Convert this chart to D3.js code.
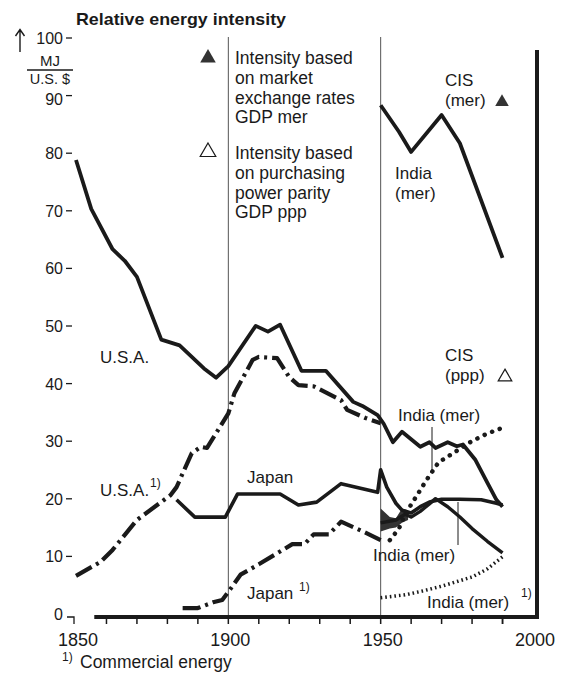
<!DOCTYPE html>
<html>
<head>
<meta charset="utf-8">
<script src="https://cdn.jsdelivr.net/npm/d3@7"></script>
<style>
  body { margin: 0; background: #fff; }
  svg { display: block; font-family: "Liberation Sans", Arial, sans-serif; }
</style>
</head>
<body>
<div id="chart"></div>
<script>
// Relative energy intensity, MJ per U.S. $
const usaMer = [[1850,79],[1855,70.5],[1862,63.5],[1866,61.5],[1870,58.7],[1878,47.8],[1884,46.8],[1892,42.8],[1896,41.2],[1900,43.2],[1909,50.2],[1913,49.2],[1917,50.4],[1924,42.4],[1932,42.4],[1941,37],[1944,36.3],[1949,34.7],[1951,33.2],[1954,30],[1957,31.8],[1960,30.5],[1963,29.2],[1966,30],[1968,29],[1972,30],[1975,29.3],[1977,29.6],[1981,27],[1985,23],[1988,20],[1990,18.8]];
const usaCommercial = [[1850,6.8],[1858,9.2],[1862,11.3],[1870,16.5],[1881,20.8],[1883,22.2],[1888,28.1],[1891,29.2],[1893,29],[1900,35],[1902,38.5],[1908,44.3],[1910,44.8],[1916,44.6],[1920,41.3],[1923,39.9],[1928,39.7],[1937,37.3],[1939,35.6],[1945,34.2],[1950,33.3]];
const japanMer = [[1883,20],[1889,17],[1899,17],[1903,21],[1917,21],[1923,19.1],[1929,19.6],[1937,22.8],[1949,21.3],[1950,25.2],[1952,22.2],[1955,19.4],[1957,18.2],[1960,17.7],[1963,18.8],[1966,19.6],[1970,20.1],[1976,20.1],[1983,20],[1988,19.4],[1990,19.1]];
const japanCommercial = [[1885,1.2],[1890,1.2],[1895,2.2],[1898,2.6],[1900,4],[1904,7],[1910,8.8],[1921,12.3],[1925,12.3],[1928,14],[1933,14],[1937,16.2],[1945,14.3],[1950,13]];
const cisMer = [[1950,88.5],[1956,83.9],[1960,80.4],[1970,86.8],[1976,81.9],[1990,62]];
const cisPpp = [[1953,13],[1956,15],[1958,17.5],[1961,20],[1965,23.4],[1969,26.5],[1975,28.5],[1980,30.2],[1985,31.5],[1990,32.5]];
const indiaMer = [[1950,16],[1955,16.5],[1958,17.5],[1960,17],[1963,18],[1966,19.3],[1968,20.2],[1972,18.8],[1976,17],[1980,15],[1985,12.8],[1990,10.8]];
const indiaBand = [[1950,14.5,18.5],[1953,15,17],[1955,15.2,16.8],[1957,16,18.5],[1959,16.5,18.2]];
const indiaCommercial = [[1950,3],[1958,3.5],[1964,4.2],[1970,5],[1980,6.6],[1985,8],[1990,10.1]];
const yTicks = [0,10,20,30,40,50,60,70,80,90,100];
const xLabels = [1850,1900,1950,2000];
const xMinorTicks = d3.range(1860, 2000, 10);

const width = 562, height = 673;
const ink = '#1a1a1a';

const svg = d3.select('#chart').append('svg')
  .attr('width', width).attr('height', height);

const x = d3.scaleLinear().domain([1850, 2000]).range([76, 533]);
const y = d3.scaleLinear().domain([0, 100]).range([615, 39]);

// vertical reference lines at 1900 and 1950
[1900, 1950].forEach(yr => {
  svg.append('line')
    .attr('x1', x(yr)).attr('x2', x(yr))
    .attr('y1', 37).attr('y2', y(0))
    .attr('stroke', '#555').attr('stroke-width', 1);
});

// x axis: heavy baseline with small ticks
svg.append('line')
  .attr('x1', x(1856)).attr('x2', 539)
  .attr('y1', y(0) + 2).attr('y2', y(0) + 2)
  .attr('stroke', ink).attr('stroke-width', 4);
svg.selectAll('.xtick').data(xMinorTicks.concat([1990]))
  .enter().append('line')
  .attr('class', 'xtick')
  .attr('x1', d => x(d)).attr('x2', d => x(d))
  .attr('y1', y(0) + 2).attr('y2', y(0) + 9)
  .attr('stroke', ink).attr('stroke-width', 1.5);
svg.selectAll('.xlab').data(xLabels)
  .enter().append('text')
  .attr('class', 'xlab')
  .attr('x', d => x(d) + 2).attr('y', 646)
  .attr('text-anchor', 'middle')
  .style('font-size', '18px').style('fill', ink)
  .text(d => d);

// right frame line
svg.append('line')
  .attr('x1', 537).attr('x2', 537)
  .attr('y1', 50).attr('y2', y(0) + 4)
  .attr('stroke', ink).attr('stroke-width', 4);

// y tick labels (no axis line, just label + dash)
svg.selectAll('.ylab').data(yTicks)
  .enter().append('text')
  .attr('class', 'ylab')
  .attr('x', 63).attr('y', d => y(d) + (d === 90 ? 8 : 5))
  .attr('text-anchor', 'end')
  .style('font-size', '16px').style('fill', ink)
  .text(d => d);
svg.selectAll('.ydash').data(yTicks.filter(d => d > 0))
  .enter().append('line')
  .attr('class', 'ydash')
  .attr('x1', 66).attr('x2', 72)
  .attr('y1', d => y(d) - 1).attr('y2', d => y(d) - 1)
  .attr('stroke', ink).attr('stroke-width', 1.3);
svg.append('path')
  .attr('d', `M67,${y(0) + 2}H74V${y(0) + 9}`)
  .attr('fill', 'none').attr('stroke', ink).attr('stroke-width', 1.3);

// unit: arrow + MJ / U.S. $
svg.append('path')
  .attr('d', 'M20,52V30M15.5,36L20,29.5L24.5,36')
  .attr('fill', 'none').attr('stroke', ink).attr('stroke-width', 1.4);
svg.append('text').attr('x', 50).attr('y', 66).attr('text-anchor', 'middle')
  .style('font-size', '15px').style('fill', ink).text('MJ');
svg.append('line').attr('x1', 27).attr('x2', 73).attr('y1', 70).attr('y2', 70)
  .attr('stroke', ink).attr('stroke-width', 1.3);
svg.append('text').attr('x', 50).attr('y', 84).attr('text-anchor', 'middle')
  .style('font-size', '14.5px').style('fill', ink).text('U.S. $');

// title
svg.append('text').attr('x', 76).attr('y', 25)
  .attr('textLength', 210).attr('lengthAdjust', 'spacingAndGlyphs')
  .style('font-size', '17px').style('font-weight', 'bold').style('fill', ink)
  .text('Relative energy intensity');

// legend
const triangle = d3.symbol().type(d3.symbolTriangle).size(105);
svg.append('path').attr('d', triangle).attr('transform', 'translate(208,58)')
  .attr('fill', '#333');
svg.append('path').attr('d', triangle).attr('transform', 'translate(208,152)')
  .attr('fill', '#fff').attr('stroke', ink).attr('stroke-width', 1.2);
const legendLines = [
  ['Intensity based', 64], ['on market', 84], ['exchange rates', 104], ['GDP mer', 123],
  ['Intensity based', 159], ['on purchasing', 179], ['power parity', 199], ['GDP ppp', 218]
];
svg.selectAll('.leg').data(legendLines)
  .enter().append('text')
  .attr('class', 'leg')
  .attr('x', 235).attr('y', d => d[1])
  .style('font-size', '17.5px').style('fill', ink)
  .text(d => d[0]);

// series
const line = d3.line().x(d => x(d[0])).y(d => y(d[1]));

svg.append('path').datum(indiaBand)
  .attr('d', d3.area().x(d => x(d[0])).y0(d => y(d[1])).y1(d => y(d[2])))
  .attr('fill', '#333');

const drawLine = (data, w, dash, cap) => svg.append('path').datum(data)
  .attr('d', line)
  .attr('fill', 'none')
  .attr('stroke', ink)
  .attr('stroke-width', w)
  .attr('stroke-linejoin', 'round')
  .attr('stroke-linecap', cap || 'butt')
  .attr('stroke-dasharray', dash || null);

drawLine(usaMer, 3.8);
drawLine(usaCommercial, 4.2, '18,5,3,5');
drawLine(japanMer, 3.6);
drawLine(japanCommercial, 4.2, '18,5,3,5');
drawLine(cisMer, 3.8);
drawLine(indiaMer, 3.4);
drawLine(cisPpp, 4.5, '0.1,8', 'round');
drawLine(indiaCommercial, 3.5, '1.6,3');

// series labels
const labels = [
  ['U.S.A.', 100, 363], ['U.S.A.', 100, 496],
  ['Japan', 247, 483], ['Japan', 247, 599],
  ['CIS', 445, 86], ['(mer)', 445, 106],
  ['India', 395, 179], ['(mer)', 395, 199],
  ['CIS', 445, 361], ['(ppp)', 445, 381],
  ['India (mer)', 398, 421], ['India (mer)', 373, 561], ['India (mer)', 427, 608]
];
svg.selectAll('.slab').data(labels)
  .enter().append('text')
  .attr('class', 'slab')
  .attr('x', d => d[1]).attr('y', d => d[2])
  .style('font-size', '17px').style('fill', ink)
  .text(d => d[0]);

const notes = [[150, 487], [299, 591], [521, 597], [62, 661]];
svg.selectAll('.note').data(notes)
  .enter().append('text')
  .attr('class', 'note')
  .attr('x', d => d[0]).attr('y', d => d[1])
  .style('font-size', '12px').style('fill', ink)
  .text('1)');
svg.append('text').attr('x', 80).attr('y', 668)
  .style('font-size', '17.5px').style('fill', ink)
  .text('Commercial energy');

const smallTri = d3.symbol().type(d3.symbolTriangle).size(80);
svg.append('path').attr('d', smallTri).attr('transform', 'translate(502,102)').attr('fill', '#333');
svg.append('path').attr('d', smallTri).attr('transform', 'translate(505,377)')
  .attr('fill', '#fff').attr('stroke', ink).attr('stroke-width', 1.2);

// pointer lines from India labels
svg.append('line').attr('x1', 432).attr('x2', 432).attr('y1', 427).attr('y2', 472)
  .attr('stroke', ink).attr('stroke-width', 1);
svg.append('line').attr('x1', 458).attr('x2', 458).attr('y1', 502).attr('y2', 545)
  .attr('stroke', ink).attr('stroke-width', 1);
</script>
</body>
</html>
